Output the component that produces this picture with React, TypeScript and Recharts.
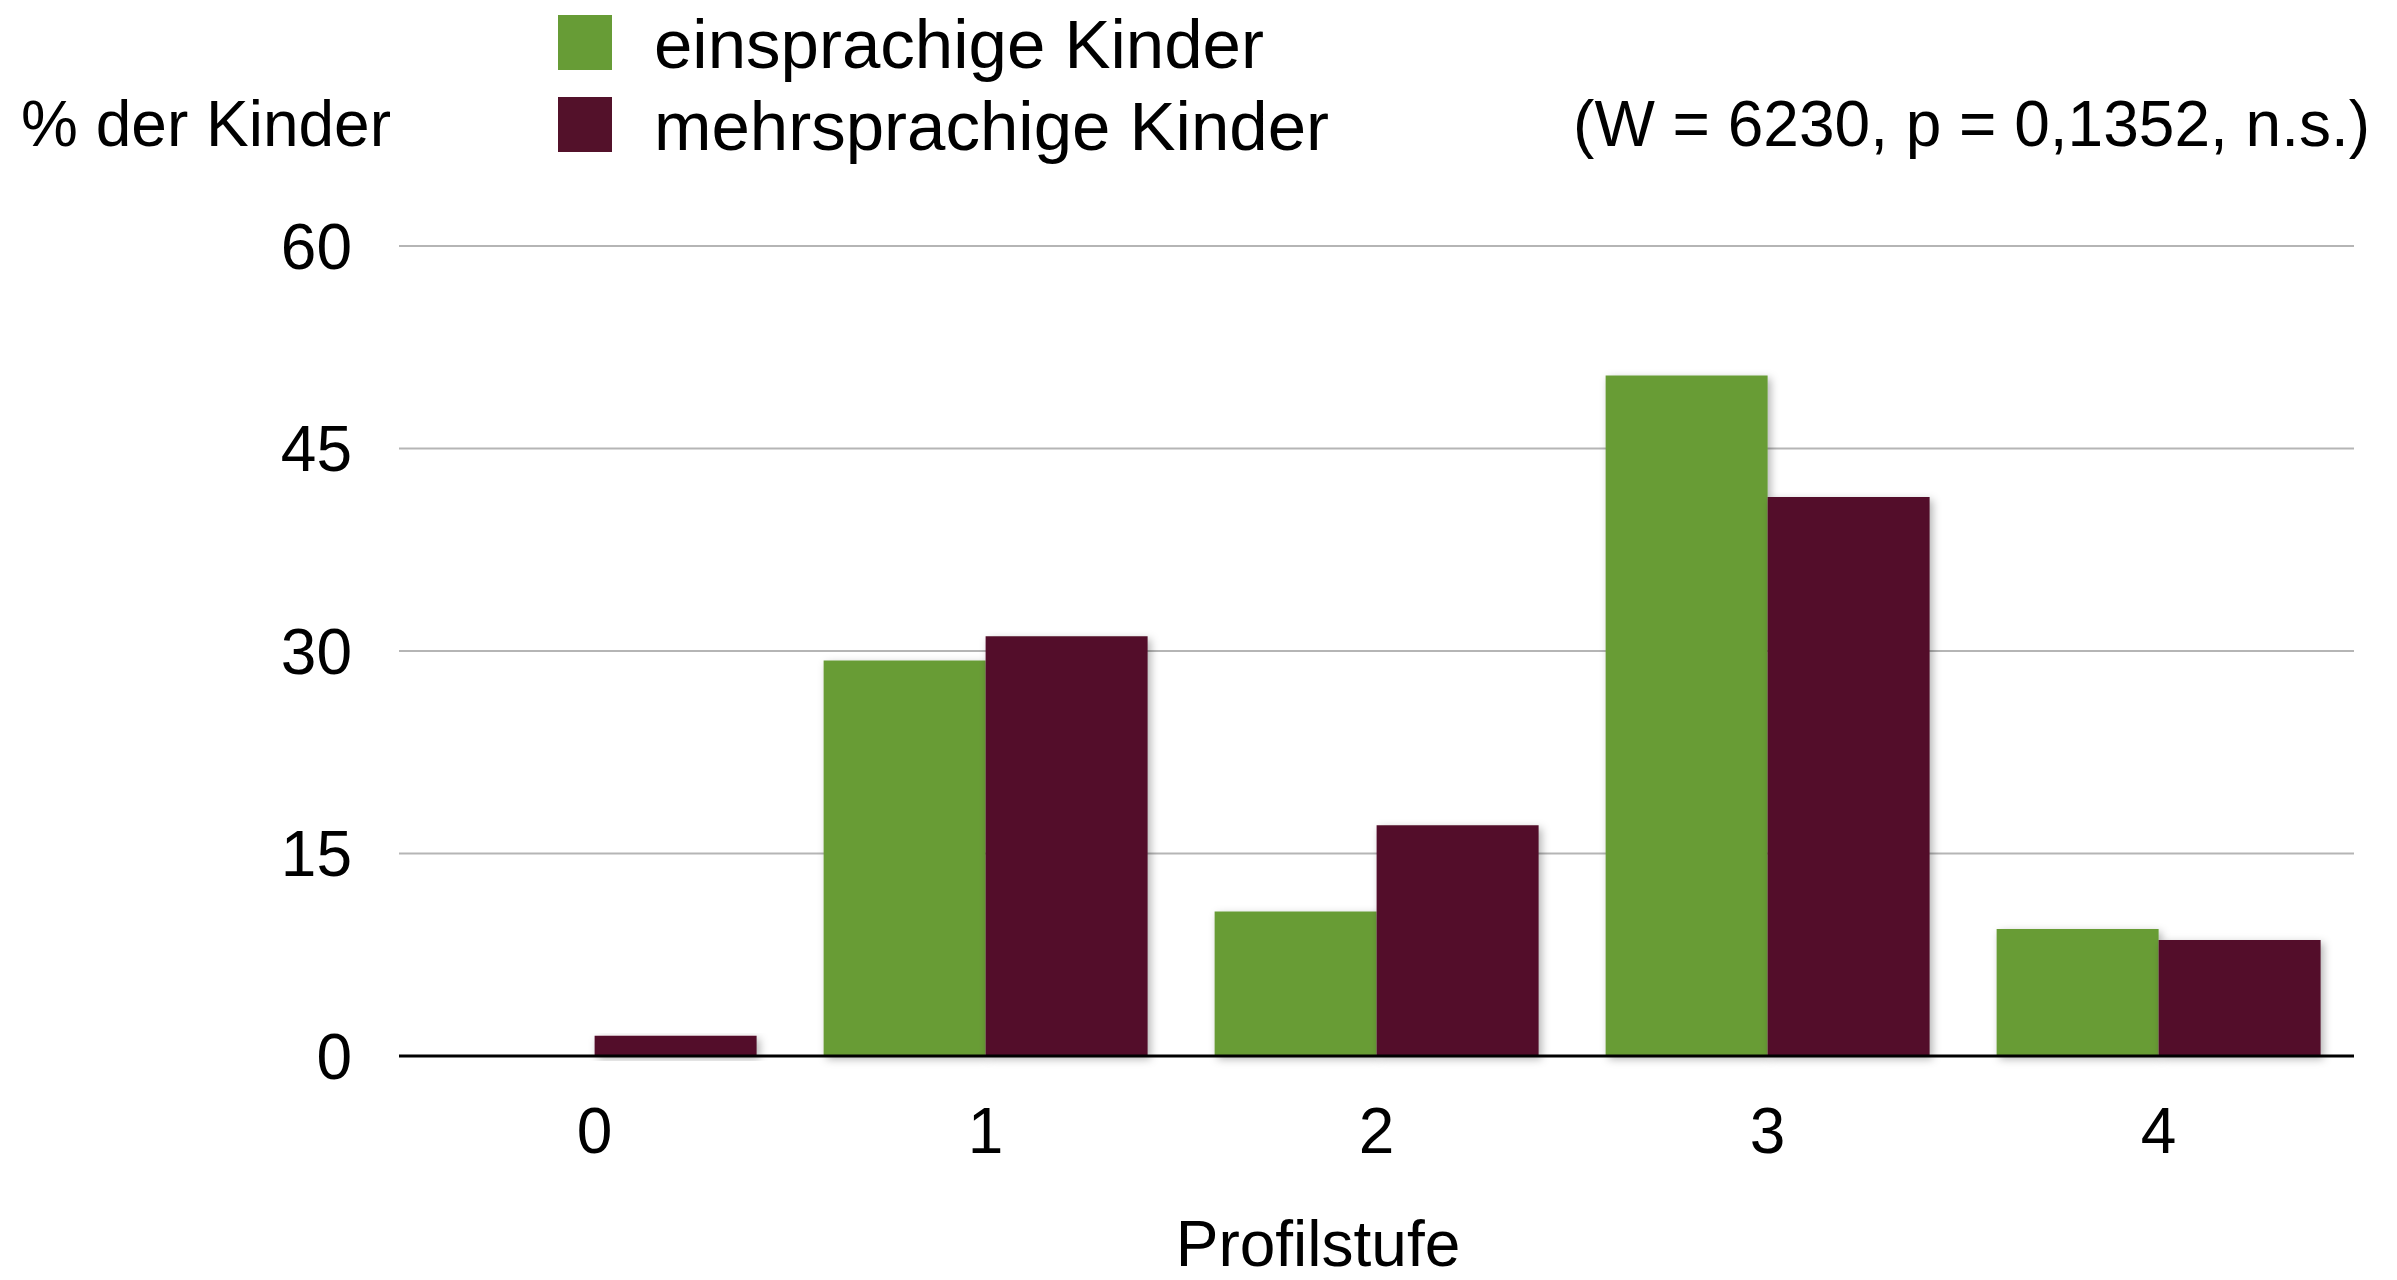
import { BarChart, Bar, XAxis, YAxis, CartesianGrid, Rectangle } from "recharts"

const stufen = ["0", "1", "2", "3", "4"]
const einsprachig = [0, 29.3, 10.7, 50.4, 9.4]
const mehrsprachig = [1.5, 31.1, 17.1, 41.4, 8.6]
const yTicks = [0, 15, 30, 45, 60]

const series = [
  { key: "ein", name: "einsprachige Kinder", color: "#679C36", values: einsprachig },
  { key: "mehr", name: "mehrsprachige Kinder", color: "#53112A", values: mehrsprachig },
]

const data = stufen.map((s, i) => {
  const row: Record<string, string | number> = { stufe: s }
  series.forEach((se) => (row[se.key] = se.values[i]))
  return row
})

const font = '"Liberation Sans", Arial, Helvetica, sans-serif'

const ShadowBar = (props: any) => <Rectangle {...props} filter="url(#barShadow)" />

export default function App() {
  return (
    <div style={{ position: "absolute", left: 0, top: 0, width: 2397, height: 1280, background: "#fff", fontFamily: font, overflow: "hidden" }}>
      <svg width={0} height={0} style={{ position: "absolute" }}>
        <defs>
          <filter id="barShadow" x="-10%" y="-10%" width="130%" height="130%">
            <feDropShadow dx="3" dy="3" stdDeviation="4" floodColor="#000" floodOpacity="0.3" />
          </filter>
        </defs>
      </svg>

      <BarChart
        width={2397}
        height={1280}
        data={data}
        margin={{ top: 246, right: 43, left: 299, bottom: 0 }}
        barCategoryGap="8.6%"
        barGap={0}
      >
        <CartesianGrid vertical={false} stroke="#b5b5b5" strokeWidth={2} />
        <XAxis
          dataKey="stufe"
          height={224}
          axisLine={{ stroke: "#000", strokeWidth: 3 }}
          tickLine={false}
          tickSize={0}
          tickMargin={52}
          tick={{ fill: "#000", fontSize: 64, fontFamily: font }}
        />
        <YAxis
          width={100}
          domain={[0, 60]}
          ticks={yTicks}
          axisLine={false}
          tickLine={false}
          tickSize={0}
          tickMargin={47}
          tick={{ fill: "#000", fontSize: 64, fontFamily: font }}
        />
        {series.map((se) => (
          <Bar key={se.key} dataKey={se.key} name={se.name} fill={se.color} shape={ShadowBar} isAnimationActive={false} />
        ))}
      </BarChart>

      {/* y label, legend, stats */}
      <div style={{ position: "absolute", left: 21, top: 92, fontSize: 64, lineHeight: "64px", whiteSpace: "nowrap" }}>
        % der Kinder
      </div>
      {series.map((se, i) => (
        <div key={se.key} style={{ position: "absolute", left: 558, top: 15 + i * 82, height: 55, display: "flex", alignItems: "center" }}>
          <div style={{ width: 54, height: 55, background: se.color }} />
          <span style={{ marginLeft: 42, fontSize: 69, lineHeight: "68px", whiteSpace: "nowrap", position: "relative", top: 2 }}>{se.name}</span>
        </div>
      ))}
      <div style={{ position: "absolute", right: 27, top: 92, fontSize: 64, lineHeight: "64px", whiteSpace: "nowrap" }}>
        (W = 6230, p = 0,1352, n.s.)
      </div>
      <div style={{ position: "absolute", left: 1318, top: 1208, transform: "translateX(-50%)", fontSize: 64, lineHeight: "72px", whiteSpace: "nowrap" }}>
        Profilstufe
      </div>
    </div>
  )
}
